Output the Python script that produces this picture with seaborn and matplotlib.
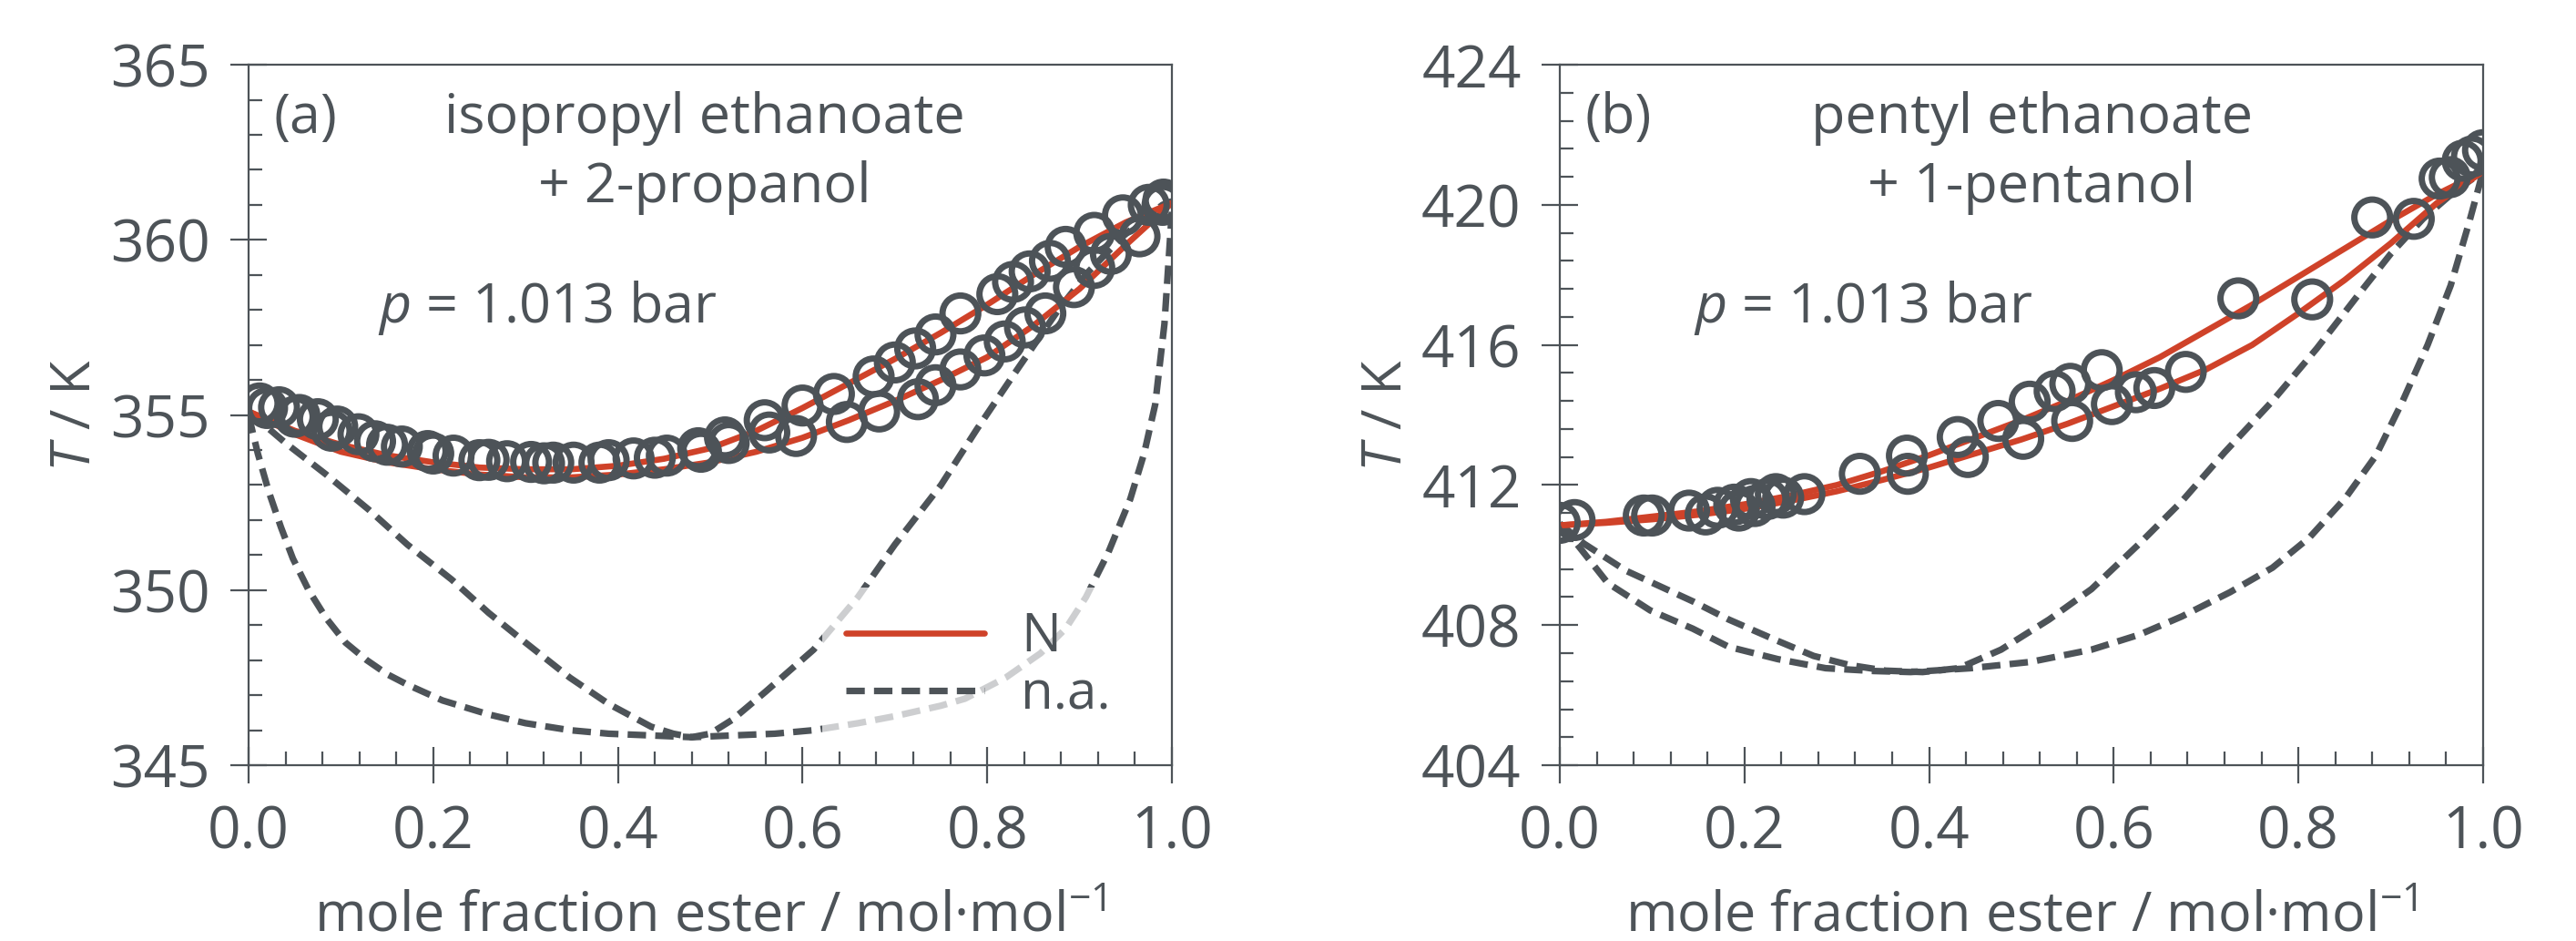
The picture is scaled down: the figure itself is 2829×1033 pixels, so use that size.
import matplotlib
matplotlib.use("Agg")
import matplotlib.pyplot as plt
import seaborn as sns
from matplotlib.ticker import MultipleLocator, FormatStrFormatter

# colours / style
GRAY = "#4d5358"
RED = "#cf4229"

sns.set_style("ticks")
plt.rcParams["font.family"] = ["Open Sans", "DejaVu Sans"]
plt.rcParams["mathtext.fontset"] = "custom"
plt.rcParams["mathtext.rm"] = "Open Sans"
plt.rcParams["mathtext.it"] = "Open Sans:italic"
plt.rcParams["lines.dashed_pattern"] = [2.8, 1.4]

# ---------------- (a) isopropyl ethanoate + 2-propanol ----------------
x_model_a = [0.00, 0.05, 0.10, 0.15, 0.20, 0.25, 0.30, 0.35, 0.40, 0.45, 0.50,
             0.55, 0.60, 0.65, 0.70, 0.75, 0.80, 0.85, 0.90, 0.95, 1.00]
T_dew_N_a = [355.10, 354.55, 354.15, 353.85, 353.65, 353.50, 353.45, 353.45, 353.55, 353.75, 354.05,
             354.55, 355.20, 355.90, 356.60, 357.35, 358.15, 359.00, 359.80, 360.50, 361.05]
T_bub_N_a = [355.10, 354.45, 353.95, 353.65, 353.45, 353.30, 353.22, 353.22, 353.30, 353.45, 353.65,
             353.95, 354.35, 354.85, 355.40, 356.00, 356.65, 357.55, 358.60, 359.85, 361.05]

x_na1_a = [0.0, 0.04, 0.084, 0.13, 0.172, 0.22, 0.26, 0.30, 0.348, 0.39, 0.436, 0.46, 0.48, 0.50,
           0.524, 0.56, 0.612, 0.66, 0.70, 0.75, 0.789, 0.83, 0.877, 0.91, 0.947, 0.97, 0.99, 1.0]
T_na1_a = [355.1, 354.2, 353.3, 352.3, 351.3, 350.3, 349.35, 348.5, 347.5, 346.75, 346.1, 345.9, 345.8, 345.9,
           346.3, 347.1, 348.3, 349.8, 351.3, 353.0, 354.6, 356.2, 358.0, 359.1, 360.1, 360.6, 361.0, 361.1]
x_na2_a = [0.0, 0.01, 0.022, 0.035, 0.048, 0.065, 0.084, 0.105, 0.128, 0.15, 0.172, 0.21, 0.26, 0.30,
           0.348, 0.39, 0.436, 0.48, 0.524, 0.57, 0.612, 0.66, 0.70, 0.75, 0.776, 0.82, 0.858, 0.885,
           0.907, 0.931, 0.955, 0.97, 0.982, 0.992, 1.0]
T_na2_a = [355.0, 353.9, 352.8, 351.8, 350.9, 350.0, 349.2, 348.5, 348.0, 347.6, 347.3, 346.85, 346.45, 346.2,
           346.0, 345.9, 345.85, 345.8, 345.85, 345.9, 346.0, 346.2, 346.4, 346.7, 346.9, 347.5, 348.2, 348.9,
           349.8, 351.06, 352.6, 353.9, 355.3, 357.6, 360.8]

y_vap_a = [0.012, 0.033, 0.055, 0.075, 0.096, 0.119, 0.137, 0.166, 0.194, 0.222, 0.25, 0.28, 0.306, 0.33,
           0.352, 0.39, 0.417, 0.453, 0.487, 0.516, 0.559, 0.60, 0.634, 0.677, 0.70, 0.722, 0.744, 0.771,
           0.811, 0.828, 0.846, 0.868, 0.885, 0.916, 0.947, 0.975, 0.991]
T_vap_a = [355.33, 355.22, 355.0, 354.88, 354.67, 354.45, 354.25, 354.1, 353.97, 353.84, 353.71, 353.68, 353.66,
           353.64, 353.64, 353.71, 353.76, 353.84, 354.05, 354.36, 354.85, 355.27, 355.6, 356.1, 356.5, 356.9,
           357.3, 357.9, 358.45, 358.8, 359.1, 359.4, 359.8, 360.2, 360.7, 361.0, 361.15]
x_liq_a = [0.02, 0.05, 0.09, 0.15, 0.20, 0.26, 0.32, 0.38, 0.44, 0.49, 0.52, 0.564, 0.593, 0.648, 0.683,
           0.725, 0.744, 0.771, 0.797, 0.819, 0.841, 0.863, 0.894, 0.916, 0.934, 0.965, 0.99]
T_liq_a = [355.2, 354.95, 354.55, 354.15, 353.9, 353.72, 353.62, 353.64, 353.78, 353.95, 354.2, 354.5, 354.4,
           354.8, 355.1, 355.45, 355.85, 356.3, 356.7, 357.1, 357.5, 357.9, 358.65, 359.2, 359.6, 360.1, 361.0]

# ---------------- (b) pentyl ethanoate + 1-pentanol ----------------
x_model_b = x_model_a
T_dew_N_b = [410.85, 410.95, 411.10, 411.25, 411.45, 411.70, 412.00, 412.40, 412.85, 413.35, 413.85,
             414.40, 415.00, 415.65, 416.40, 417.15, 417.95, 418.75, 419.55, 420.30, 420.95]
T_bub_N_b = [410.85, 410.92, 411.02, 411.15, 411.32, 411.55, 411.82, 412.15, 412.50, 412.90, 413.30,
             413.75, 414.25, 414.75, 415.30, 416.00, 416.90, 417.85, 418.90, 420.05, 420.95]

x_na1_b = [0.0, 0.026, 0.072, 0.144, 0.183, 0.236, 0.275, 0.314, 0.353, 0.393, 0.432, 0.478, 0.53, 0.576,
           0.628, 0.674, 0.72, 0.772, 0.82, 0.864, 0.90, 0.935, 0.97, 1.0]
T_na1_b = [410.9, 410.33, 409.55, 408.68, 408.16, 407.55, 407.12, 406.86, 406.7, 406.66, 406.77, 407.3, 408.16,
           409.03, 410.33, 411.54, 412.93, 414.4, 415.9, 417.4, 418.6, 419.6, 420.4, 420.95]
x_na2_b = [0.0, 0.013, 0.052, 0.098, 0.144, 0.183, 0.236, 0.288, 0.34, 0.38, 0.445, 0.51, 0.576, 0.628,
           0.674, 0.726, 0.772, 0.812, 0.851, 0.884, 0.913, 0.94, 0.965, 0.985, 1.0]
T_na2_b = [410.9, 410.5, 409.2, 408.42, 407.9, 407.38, 407.03, 406.77, 406.69, 406.66, 406.77, 406.95, 407.3,
           407.73, 408.25, 408.94, 409.64, 410.5, 411.63, 412.84, 414.4, 416.0, 417.7, 419.5, 420.95]

x_exp_b = [0.0, 0.016, 0.091, 0.10, 0.14, 0.158, 0.171, 0.189, 0.194, 0.207, 0.211, 0.225, 0.234, 0.242,
           0.265, 0.325, 0.376, 0.377, 0.431, 0.442, 0.475, 0.502, 0.509, 0.536, 0.553, 0.555, 0.587, 0.598,
           0.624, 0.644, 0.678, 0.735, 0.815, 0.88, 0.925, 0.953, 0.964, 0.978, 0.988, 1.0]
T_exp_b = [410.92, 411.0, 411.13, 411.13, 411.27, 411.16, 411.35, 411.44, 411.27, 411.6, 411.4, 411.6, 411.74,
           411.64, 411.74, 412.32, 412.84, 412.32, 413.37, 412.8, 413.83, 413.32, 414.38, 414.68, 414.89,
           413.83, 415.28, 414.31, 414.65, 414.77, 415.23, 417.33, 417.3, 419.64, 419.6, 420.75, 420.79,
           421.26, 421.38, 421.56]

FS = 23
fig = plt.figure(figsize=(14.145, 5.165), dpi=200)
ax_a = fig.add_axes([0.0965, 0.1868, 0.3584, 0.7444])
ax_b = fig.add_axes([0.6055, 0.1868, 0.3584, 0.7444])

line_kw = dict(sort=False, estimator=None, legend=False)
marker_kw = dict(marker="o", s=200, facecolor="none", edgecolor=GRAY, linewidth=2.5, zorder=4)
DASH_LW = 2.6
RED_LW = 2.4


def style_axes(ax, ylim, ymajor, yminor):
    ax.set_xlim(0, 1)
    ax.set_ylim(*ylim)
    ax.xaxis.set_major_locator(MultipleLocator(0.2))
    ax.xaxis.set_minor_locator(MultipleLocator(0.04))
    ax.yaxis.set_major_locator(MultipleLocator(ymajor))
    ax.yaxis.set_minor_locator(MultipleLocator(yminor))
    ax.xaxis.set_major_formatter(FormatStrFormatter("%.1f"))
    ax.yaxis.set_major_formatter(FormatStrFormatter("%d"))
    ax.tick_params(which="major", direction="inout", length=14.4, width=0.8, color=GRAY,
                   labelsize=FS, labelcolor=GRAY, pad=8)
    ax.tick_params(which="minor", direction="in", length=5.4, width=0.8, color=GRAY)
    for sp in ax.spines.values():
        sp.set_visible(True)
        sp.set_color(GRAY)
        sp.set_linewidth(0.8)
    ax.set_xlabel("mole fraction ester / mol\u00b7mol$^{-1}$", fontsize=22, color=GRAY)
    ax.set_ylabel("$T$ / K", fontsize=22, color=GRAY)
    ax.xaxis.set_label_coords(0.5, -0.178)
    ax.yaxis.set_label_coords(-0.158, 0.5)
    ax.xaxis.label.set_va("top")


# panel (a)
sns.lineplot(x=x_na1_a, y=T_na1_a, color=GRAY, linewidth=DASH_LW, linestyle="--", ax=ax_a,
             label="n.a.", **line_kw)
sns.lineplot(x=x_na2_a, y=T_na2_a, color=GRAY, linewidth=DASH_LW, linestyle="--", ax=ax_a, **line_kw)
sns.lineplot(x=x_model_a, y=T_dew_N_a, color=RED, linewidth=RED_LW, ax=ax_a, label="N", **line_kw)
sns.lineplot(x=x_model_a, y=T_bub_N_a, color=RED, linewidth=RED_LW, ax=ax_a, **line_kw)
sns.scatterplot(x=y_vap_a, y=T_vap_a, ax=ax_a, **marker_kw)
sns.scatterplot(x=x_liq_a, y=T_liq_a, ax=ax_a, **marker_kw)
style_axes(ax_a, (345, 365), 5, 1)

handles, labels = ax_a.get_legend_handles_labels()
order = [labels.index("N"), labels.index("n.a.")]
leg = ax_a.legend([handles[i] for i in order], [labels[i] for i in order],
                  loc="upper left", bbox_to_anchor=(0.621, 0.254), borderaxespad=0,
                  fontsize=21, frameon=True, fancybox=False, framealpha=0.72,
                  facecolor="white", edgecolor="none", handlelength=2.6,
                  handletextpad=0.7, labelspacing=0.07, borderpad=0.45)
for t in leg.get_texts():
    t.set_color(GRAY)

ax_a.text(0.027, 0.902, "(a)", transform=ax_a.transAxes, fontsize=22, color=GRAY, va="baseline")
ax_a.text(0.494, 0.902, "isopropyl ethanoate", transform=ax_a.transAxes, fontsize=22, color=GRAY,
          ha="center", va="baseline")
ax_a.text(0.494, 0.804, "+ 2-propanol", transform=ax_a.transAxes, fontsize=22, color=GRAY,
          ha="center", va="baseline")
ax_a.text(0.140, 0.632, "$p$ = 1.013 bar", transform=ax_a.transAxes, fontsize=22, color=GRAY,
          va="baseline")

# panel (b)
sns.lineplot(x=x_na1_b, y=T_na1_b, color=GRAY, linewidth=DASH_LW, linestyle="--", ax=ax_b, **line_kw)
sns.lineplot(x=x_na2_b, y=T_na2_b, color=GRAY, linewidth=DASH_LW, linestyle="--", ax=ax_b, **line_kw)
sns.lineplot(x=x_model_b, y=T_dew_N_b, color=RED, linewidth=RED_LW, ax=ax_b, **line_kw)
sns.lineplot(x=x_model_b, y=T_bub_N_b, color=RED, linewidth=RED_LW, ax=ax_b, **line_kw)
sns.scatterplot(x=x_exp_b, y=T_exp_b, ax=ax_b, **marker_kw)
style_axes(ax_b, (404, 424), 4, 0.8)

ax_b.text(0.027, 0.902, "(b)", transform=ax_b.transAxes, fontsize=22, color=GRAY, va="baseline")
ax_b.text(0.511, 0.902, "pentyl ethanoate", transform=ax_b.transAxes, fontsize=22, color=GRAY,
          ha="center", va="baseline")
ax_b.text(0.511, 0.804, "+ 1-pentanol", transform=ax_b.transAxes, fontsize=22, color=GRAY,
          ha="center", va="baseline")
ax_b.text(0.145, 0.632, "$p$ = 1.013 bar", transform=ax_b.transAxes, fontsize=22, color=GRAY,
          va="baseline")

fig.savefig("out.png", dpi=200, facecolor="white")
